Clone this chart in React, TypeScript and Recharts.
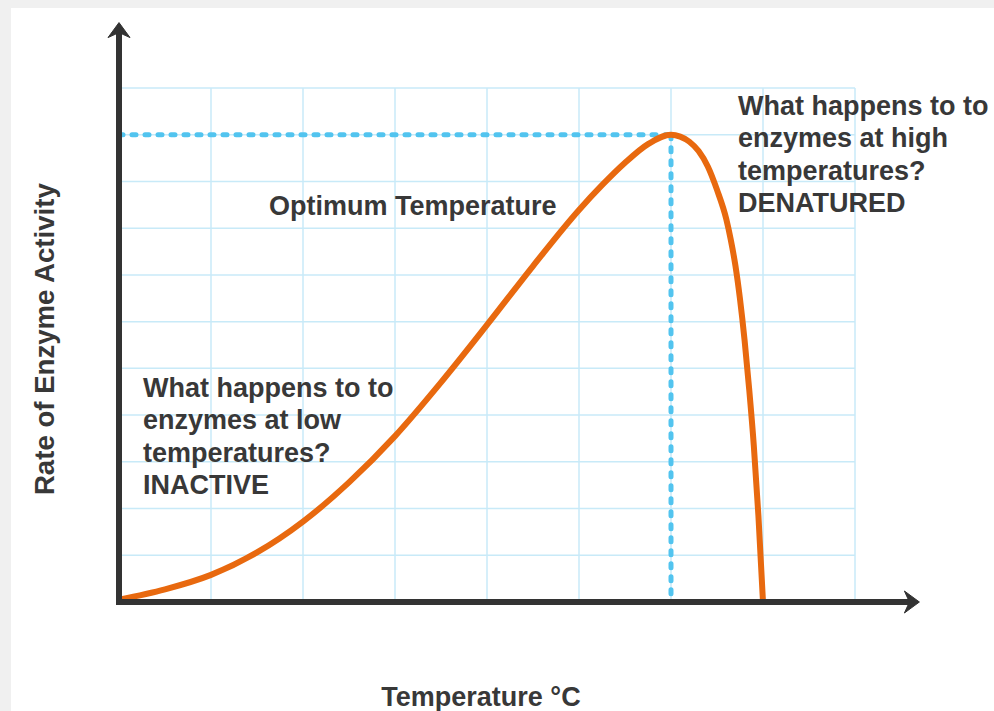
import React from 'react';
import { LineChart, Line, XAxis, YAxis, CartesianGrid, ReferenceLine } from 'recharts';

// temperature (grid units of 10) vs rate of enzyme activity (grid units of 10)
const temperatures = [
  0, 5, 10, 15, 20, 25, 30, 35, 40, 45, 50, 52.5, 55, 57.5, 60, 61, 62, 63, 64, 65, 66, 66.5, 67, 67.5, 68, 68.5, 69, 69.5,
  70,
];
const activity = [
  0.5, 2.7, 5.8, 10.6, 17.2, 25.6, 35.5, 47, 59.3, 71.9, 83.9, 89.2, 94, 98, 100, 99.6, 98.5, 96.5, 93.2, 88.2, 82, 77.5,
  72, 64.8, 56, 45.5, 33.5, 18.5, 0,
];

const xTicks = [0, 10, 20, 30, 40, 50, 60, 70, 80];
const yTicks = [0, 10, 20, 30, 40, 50, 60, 70, 80, 90, 100, 110];

const optimumTemp = 60;
const peakRate = 100;
const xArrowEnd = 87;
const yArrowEnd = 124;

const lowText = ['What happens to to', 'enzymes at low', 'temperatures?', 'INACTIVE'];
const highText = ['What happens to to', 'enzymes at high', 'temperatures?', 'DENATURED'];

const data = temperatures.map((t, i) => ({ t, rate: activity[i] }));

const AXIS = '#333333';
const TEXT = '#383838';
const DASH = '#52c4ef';

const ArrowLine = (props: any) => {
  const { x1, y1, x2, y2 } = props;
  const dx = x2 - x1;
  const dy = y2 - y1;
  const len = Math.hypot(dx, dy) || 1;
  const ux = dx / len;
  const uy = dy / len;
  const px = -uy;
  const py = ux;
  const head = 15;
  const half = 11;
  const notch = 10;
  const bx = x2 - ux * head;
  const by = y2 - uy * head;
  const pts = [
    [x2, y2],
    [bx + px * half, by + py * half],
    [x2 - ux * notch, y2 - uy * notch],
    [bx - px * half, by - py * half],
  ]
    .map((p) => p.join(','))
    .join(' ');
  return (
    <g>
      <line
        x1={x1}
        y1={y1}
        x2={x2 - ux * 9}
        y2={y2 - uy * 9}
        stroke={AXIS}
        strokeWidth={6}
        strokeLinecap="square"
      />
      <polygon points={pts} fill={AXIS} stroke={AXIS} strokeWidth={1} strokeLinejoin="round" />
    </g>
  );
};

const textStyle: React.CSSProperties = {
  position: 'absolute',
  fontFamily: '"Liberation Sans", Arial, sans-serif',
  fontWeight: 700,
  fontSize: 27,
  lineHeight: '32.3px',
  color: TEXT,
  whiteSpace: 'nowrap',
};

export default function App() {
  return (
    <div style={{ position: 'absolute', left: 0, top: 0, width: 994, height: 711, background: '#f0f0f0', overflow: 'hidden' }}>
      <div style={{ position: 'absolute', left: 11, top: 8, right: 0, bottom: 0, background: '#ffffff' }} />
      <div style={{ position: 'absolute', left: 0, top: 0 }}>
        <LineChart width={994} height={711} data={data} margin={{ top: 88, right: 139, bottom: 109, left: 119 }}>
          <CartesianGrid stroke="#c8eaf8" strokeWidth={1.5} />
          <XAxis dataKey="t" type="number" domain={[0, 80]} ticks={xTicks} hide />
          <YAxis type="number" domain={[0, 110]} ticks={yTicks} hide />
          <ReferenceLine
            segment={[{ x: 0, y: peakRate }, { x: optimumTemp, y: peakRate }]}
            stroke={DASH}
            strokeWidth={5}
            strokeDasharray="4 9"
            strokeLinecap="round"
            ifOverflow="visible"
          />
          <ReferenceLine
            segment={[{ x: optimumTemp, y: peakRate }, { x: optimumTemp, y: 0 }]}
            stroke={DASH}
            strokeWidth={5}
            strokeDasharray="4 9"
            strokeLinecap="round"
            ifOverflow="visible"
          />
          <Line
            dataKey="rate"
            type="monotone"
            stroke="#e8690f"
            strokeWidth={6}
            dot={false}
            activeDot={false}
            isAnimationActive={false}
          />
          <ReferenceLine segment={[{ x: 0, y: 0 }, { x: xArrowEnd, y: 0 }]} ifOverflow="visible" shape={ArrowLine} />
          <ReferenceLine segment={[{ x: 0, y: 0 }, { x: 0, y: yArrowEnd }]} ifOverflow="visible" shape={ArrowLine} />
        </LineChart>
      </div>

      <div style={{ ...textStyle, left: 143, top: 372 }}>
        {lowText.map((l) => (
          <div key={l}>{l}</div>
        ))}
      </div>
      <div style={{ ...textStyle, left: 738, top: 90 }}>
        {highText.map((l) => (
          <div key={l}>{l}</div>
        ))}
      </div>
      <div style={{ ...textStyle, left: 269, top: 190 }}>Optimum Temperature</div>
      <div style={{ ...textStyle, left: 331, top: 681, width: 300, textAlign: 'center' }}>Temperature °C</div>
      <div
        style={{
          ...textStyle,
          fontSize: 27.6,
          left: 45 - 180,
          top: 339 - 16,
          width: 360,
          textAlign: 'center',
          transform: 'rotate(-90deg)',
          transformOrigin: '50% 50%',
        }}
      >
        Rate of Enzyme Activity
      </div>
    </div>
  );
}
